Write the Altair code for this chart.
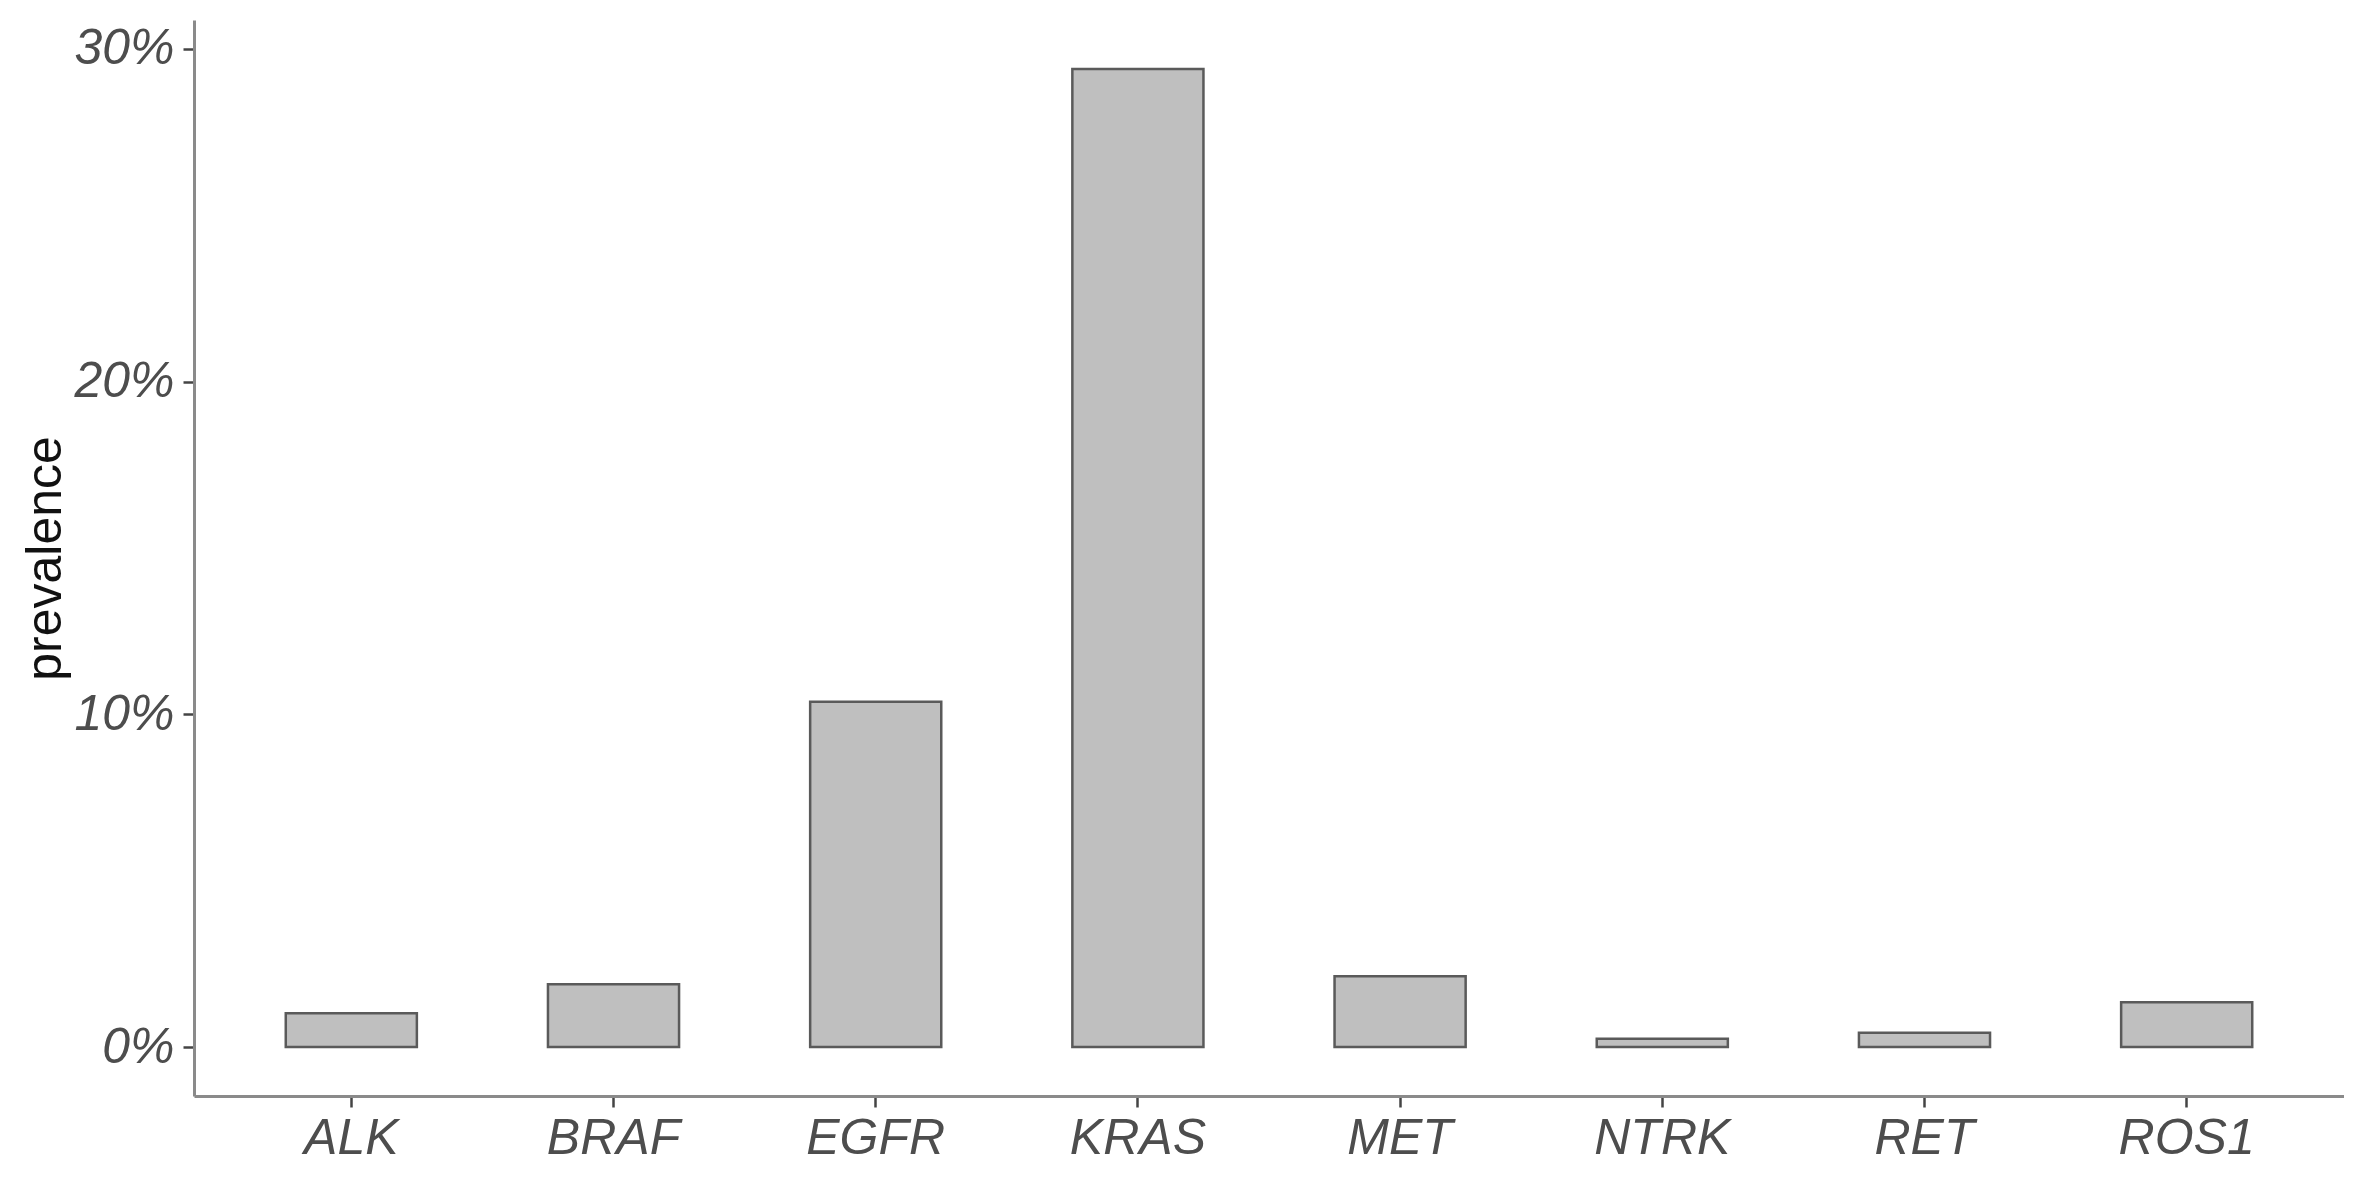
import altair as alt
import pandas as pd

genes = ["ALK", "BRAF", "EGFR", "KRAS", "MET", "NTRK", "RET", "ROS1"]
prevalence = [1.02, 1.89, 10.38, 29.4, 2.13, 0.25, 0.43, 1.35]
y_ticks = [0, 10, 20, 30]

df = pd.DataFrame({"gene": genes, "prevalence": prevalence})

FONT = "Liberation Sans"

chart = alt.Chart(df).mark_bar(
    fill="#bfbfbf", stroke="#5a5a5a", strokeWidth=2.5
).encode(
    x=alt.X("gene:N", sort=genes,
            scale=alt.Scale(paddingInner=0.5, paddingOuter=0.35),
            axis=alt.Axis(title=None, labelAngle=0, labelPadding=6)),
    y=alt.Y("prevalence:Q",
            scale=alt.Scale(domain=[-1.47, 30.87], nice=False, zero=False),
            axis=alt.Axis(title="prevalence", values=y_ticks,
                          labelExpr="datum.value + '%'",
                          labelPadding=9,
                          titleX=-134, titleBaseline="alphabetic",
                          titleAngle=270, titleAlign="center")),
    y2=alt.datum(0),
).properties(
    width=2150, height=1076,
    autosize=alt.AutoSizeParams(type="none"),
    padding={"left": 186, "top": 12, "right": 0, "bottom": 80},
).configure_view(
    stroke=None
).configure_axis(
    grid=False,
    domainColor="#8a8a8a", domainWidth=3,
    tickColor="#444444", tickWidth=2.5, tickSize=11,
    labelFont=FONT, labelFontStyle="italic", labelFontSize=50,
    labelColor="#4d4d4d",
    titleFont=FONT, titleFontSize=50, titleColor="#111111",
    titleFontWeight="normal",
)

chart.save("out.html", embed_options={"renderer": "svg", "actions": False})
